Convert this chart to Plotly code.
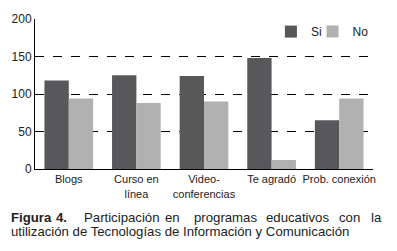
import plotly.graph_objects as go

categories = ["Blogs", "Curso en<br>línea", "Video-<br>conferencias", "Te agradó", "Prob. conexión"]
si_values = [118, 125, 124, 148, 65]
no_values = [94, 88, 90, 12, 94]
y_ticks = [0, 50, 100, 150, 200]

L, R, T, B = 32, 24, 14, 82
W, H = 397, 251
pw = W - L - R
ph = H - T - B

def px(x):
    return (x - L) / pw

def py(y):
    return (H - B - y) / ph

fig = go.Figure()
fig.add_trace(go.Bar(name="Si", x=categories, y=si_values, marker_color="#58585a",
                     marker_line_width=0, legend="legend"))
fig.add_trace(go.Bar(name="No", x=categories, y=no_values, marker_color="#b1b1b1",
                     marker_line_width=0, legend="legend2"))

font_family = "Liberation Sans, Arial, sans-serif"
leg_common = dict(orientation="h", yanchor="middle", xanchor="left",
                  bgcolor="rgba(0,0,0,0)", font=dict(size=12, color="#222"), itemwidth=30)

fig.update_layout(
    width=W, height=H,
    margin=dict(l=L, r=R, t=T, b=B, pad=0),
    paper_bgcolor="white", plot_bgcolor="white",
    barmode="group", bargap=0.28, bargroupgap=0,
    font=dict(family=font_family, size=11, color="#222"),
    showlegend=True,
    legend=dict(x=px(270), y=py(27), **leg_common),
    legend2=dict(x=px(312), y=py(27), **leg_common),
    xaxis=dict(showline=True, linecolor="black", linewidth=1, showgrid=False, ticks="",
               tickfont=dict(size=11, color="#222")),
    yaxis=dict(range=[0, 200], tickvals=y_ticks, showline=True, linecolor="black", linewidth=1,
               showgrid=True, gridcolor="black", griddash="dash", gridwidth=1, zeroline=False,
               ticks="", tickfont=dict(size=12, color="#222")),
)

cap_size = 13.2
line1 = [("<b>Figura</b>", 8), ("<b>4.</b>", 53), ("Participación", 81), ("en", 163),
         ("programas", 192), ("educativos", 265), ("con", 339), ("la", 371)]
for txt, x in line1:
    fig.add_annotation(text=txt, x=px(x - 2), y=py(219), xref="paper", yref="paper",
                       xanchor="left", yanchor="middle", showarrow=False,
                       font=dict(size=cap_size, color="#222", family=font_family))
fig.add_annotation(text="utilización de Tecnologías de Información y Comunicación", x=px(6), y=py(234),
                   xref="paper", yref="paper", xanchor="left", yanchor="middle", showarrow=False,
                   font=dict(size=cap_size, color="#222", family=font_family))

fig.write_html("out.html", config={"displayModeBar": False},
               post_script="document.body.style.margin='0';document.body.style.overflow='hidden';")
